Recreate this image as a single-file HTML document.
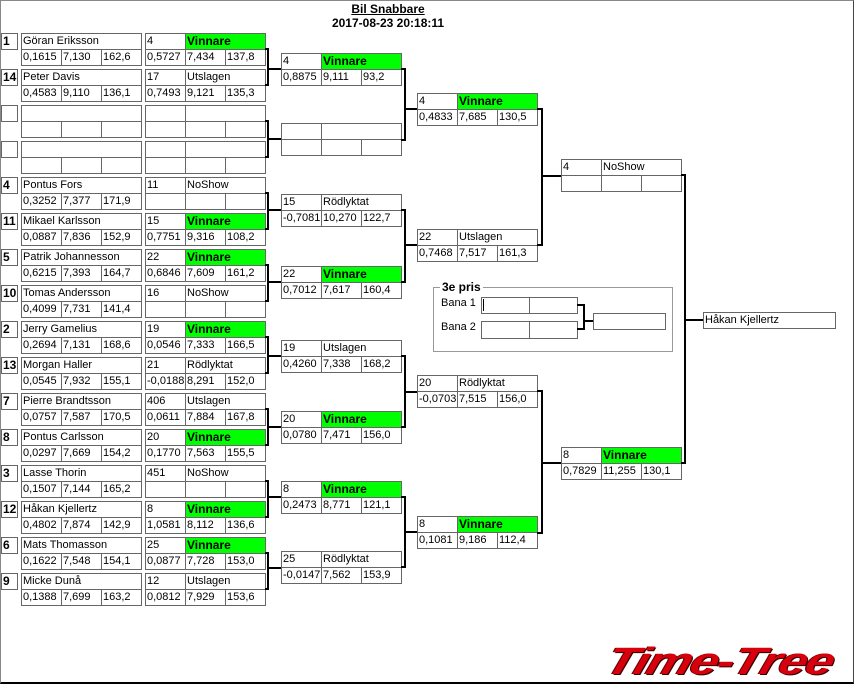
<!DOCTYPE html>
<html><head><meta charset="utf-8"><style>
body{margin:0;width:854px;height:684px;overflow:hidden;background:#fff;font-family:"Liberation Sans",sans-serif;font-size:11px;}
#f{position:absolute;left:0;top:0;width:852px;height:681px;border-left:1px solid #888;border-top:1px solid #888;border-right:1px solid #444;border-bottom:2px solid #000;}
.b{position:absolute;width:121px;height:33px;}
.c{position:absolute;box-sizing:border-box;height:17px;border:1px solid #666;top:0;padding-left:1px;line-height:15px;white-space:nowrap;overflow:hidden;font-style:normal;color:#000;background:#fff}
.c1{left:0;width:41px}.c2{left:40px;width:81px}.cn{left:0;width:121px}
.r{top:16px}.d1{left:0;width:41px}.d2{left:40px;width:41px}.d3{left:80px;width:41px}
.g{background:#00ff00;font-weight:bold;font-size:12px}
.s{position:absolute;left:1px;width:17px;height:17px;box-sizing:border-box;border:1px solid #666;font-weight:bold;font-size:12px;line-height:15px;padding-left:1px}
.t{position:absolute;left:288px;width:200px;text-align:center;font-weight:bold;font-size:12px}
</style></head><body>
<div id="f"></div>
<div class="t" style="top:2px;text-decoration:underline">Bil Snabbare</div>
<div class="t" style="top:16px">2017-08-23 20:18:11</div>

<div class="s" style="top:33px">1</div>
<div class="b" style="left:21px;top:33px"><i class="c cn">Göran Eriksson</i><i class="c r d1">0,1615</i><i class="c r d2">7,130</i><i class="c r d3">162,6</i></div>
<div class="b" style="left:145px;top:33px"><i class="c c1">4</i><i class="c c2 g">Vinnare</i><i class="c r d1">0,5727</i><i class="c r d2">7,434</i><i class="c r d3">137,8</i></div>

<div class="s" style="top:69px">14</div>
<div class="b" style="left:21px;top:69px"><i class="c cn">Peter Davis</i><i class="c r d1">0,4583</i><i class="c r d2">9,110</i><i class="c r d3">136,1</i></div>
<div class="b" style="left:145px;top:69px"><i class="c c1">17</i><i class="c c2">Utslagen</i><i class="c r d1">0,7493</i><i class="c r d2">9,121</i><i class="c r d3">135,3</i></div>

<div class="s" style="top:105px"></div>
<div class="b" style="left:21px;top:105px"><i class="c cn"></i><i class="c r d1"></i><i class="c r d2"></i><i class="c r d3"></i></div>
<div class="b" style="left:145px;top:105px"><i class="c c1"></i><i class="c c2"></i><i class="c r d1"></i><i class="c r d2"></i><i class="c r d3"></i></div>

<div class="s" style="top:141px"></div>
<div class="b" style="left:21px;top:141px"><i class="c cn"></i><i class="c r d1"></i><i class="c r d2"></i><i class="c r d3"></i></div>
<div class="b" style="left:145px;top:141px"><i class="c c1"></i><i class="c c2"></i><i class="c r d1"></i><i class="c r d2"></i><i class="c r d3"></i></div>

<div class="s" style="top:177px">4</div>
<div class="b" style="left:21px;top:177px"><i class="c cn">Pontus Fors</i><i class="c r d1">0,3252</i><i class="c r d2">7,377</i><i class="c r d3">171,9</i></div>
<div class="b" style="left:145px;top:177px"><i class="c c1">11</i><i class="c c2">NoShow</i><i class="c r d1"></i><i class="c r d2"></i><i class="c r d3"></i></div>

<div class="s" style="top:213px">11</div>
<div class="b" style="left:21px;top:213px"><i class="c cn">Mikael Karlsson</i><i class="c r d1">0,0887</i><i class="c r d2">7,836</i><i class="c r d3">152,9</i></div>
<div class="b" style="left:145px;top:213px"><i class="c c1">15</i><i class="c c2 g">Vinnare</i><i class="c r d1">0,7751</i><i class="c r d2">9,316</i><i class="c r d3">108,2</i></div>

<div class="s" style="top:249px">5</div>
<div class="b" style="left:21px;top:249px"><i class="c cn">Patrik Johannesson</i><i class="c r d1">0,6215</i><i class="c r d2">7,393</i><i class="c r d3">164,7</i></div>
<div class="b" style="left:145px;top:249px"><i class="c c1">22</i><i class="c c2 g">Vinnare</i><i class="c r d1">0,6846</i><i class="c r d2">7,609</i><i class="c r d3">161,2</i></div>

<div class="s" style="top:285px">10</div>
<div class="b" style="left:21px;top:285px"><i class="c cn">Tomas Andersson</i><i class="c r d1">0,4099</i><i class="c r d2">7,731</i><i class="c r d3">141,4</i></div>
<div class="b" style="left:145px;top:285px"><i class="c c1">16</i><i class="c c2">NoShow</i><i class="c r d1"></i><i class="c r d2"></i><i class="c r d3"></i></div>

<div class="s" style="top:321px">2</div>
<div class="b" style="left:21px;top:321px"><i class="c cn">Jerry Gamelius</i><i class="c r d1">0,2694</i><i class="c r d2">7,131</i><i class="c r d3">168,6</i></div>
<div class="b" style="left:145px;top:321px"><i class="c c1">19</i><i class="c c2 g">Vinnare</i><i class="c r d1">0,0546</i><i class="c r d2">7,333</i><i class="c r d3">166,5</i></div>

<div class="s" style="top:357px">13</div>
<div class="b" style="left:21px;top:357px"><i class="c cn">Morgan Haller</i><i class="c r d1">0,0545</i><i class="c r d2">7,932</i><i class="c r d3">155,1</i></div>
<div class="b" style="left:145px;top:357px"><i class="c c1">21</i><i class="c c2">Rödlyktat</i><i class="c r d1">-0,0188</i><i class="c r d2">8,291</i><i class="c r d3">152,0</i></div>

<div class="s" style="top:393px">7</div>
<div class="b" style="left:21px;top:393px"><i class="c cn">Pierre Brandtsson</i><i class="c r d1">0,0757</i><i class="c r d2">7,587</i><i class="c r d3">170,5</i></div>
<div class="b" style="left:145px;top:393px"><i class="c c1">406</i><i class="c c2">Utslagen</i><i class="c r d1">0,0611</i><i class="c r d2">7,884</i><i class="c r d3">167,8</i></div>

<div class="s" style="top:429px">8</div>
<div class="b" style="left:21px;top:429px"><i class="c cn">Pontus Carlsson</i><i class="c r d1">0,0297</i><i class="c r d2">7,669</i><i class="c r d3">154,2</i></div>
<div class="b" style="left:145px;top:429px"><i class="c c1">20</i><i class="c c2 g">Vinnare</i><i class="c r d1">0,1770</i><i class="c r d2">7,563</i><i class="c r d3">155,5</i></div>

<div class="s" style="top:465px">3</div>
<div class="b" style="left:21px;top:465px"><i class="c cn">Lasse Thorin</i><i class="c r d1">0,1507</i><i class="c r d2">7,144</i><i class="c r d3">165,2</i></div>
<div class="b" style="left:145px;top:465px"><i class="c c1">451</i><i class="c c2">NoShow</i><i class="c r d1"></i><i class="c r d2"></i><i class="c r d3"></i></div>

<div class="s" style="top:501px">12</div>
<div class="b" style="left:21px;top:501px"><i class="c cn">Håkan Kjellertz</i><i class="c r d1">0,4802</i><i class="c r d2">7,874</i><i class="c r d3">142,9</i></div>
<div class="b" style="left:145px;top:501px"><i class="c c1">8</i><i class="c c2 g">Vinnare</i><i class="c r d1">1,0581</i><i class="c r d2">8,112</i><i class="c r d3">136,6</i></div>

<div class="s" style="top:537px">6</div>
<div class="b" style="left:21px;top:537px"><i class="c cn">Mats Thomasson</i><i class="c r d1">0,1622</i><i class="c r d2">7,548</i><i class="c r d3">154,1</i></div>
<div class="b" style="left:145px;top:537px"><i class="c c1">25</i><i class="c c2 g">Vinnare</i><i class="c r d1">0,0877</i><i class="c r d2">7,728</i><i class="c r d3">153,0</i></div>

<div class="s" style="top:573px">9</div>
<div class="b" style="left:21px;top:573px"><i class="c cn">Micke Dunå</i><i class="c r d1">0,1388</i><i class="c r d2">7,699</i><i class="c r d3">163,2</i></div>
<div class="b" style="left:145px;top:573px"><i class="c c1">12</i><i class="c c2">Utslagen</i><i class="c r d1">0,0812</i><i class="c r d2">7,929</i><i class="c r d3">153,6</i></div>

<div class="b" style="left:281px;top:53px"><i class="c c1">4</i><i class="c c2 g">Vinnare</i><i class="c r d1">0,8875</i><i class="c r d2">9,111</i><i class="c r d3">93,2</i></div>
<div class="b" style="left:281px;top:123px"><i class="c c1"></i><i class="c c2"></i><i class="c r d1"></i><i class="c r d2"></i><i class="c r d3"></i></div>
<div class="b" style="left:281px;top:194px"><i class="c c1">15</i><i class="c c2">Rödlyktat</i><i class="c r d1">-0,7081</i><i class="c r d2">10,270</i><i class="c r d3">122,7</i></div>
<div class="b" style="left:281px;top:266px"><i class="c c1">22</i><i class="c c2 g">Vinnare</i><i class="c r d1">0,7012</i><i class="c r d2">7,617</i><i class="c r d3">160,4</i></div>
<div class="b" style="left:281px;top:340px"><i class="c c1">19</i><i class="c c2">Utslagen</i><i class="c r d1">0,4260</i><i class="c r d2">7,338</i><i class="c r d3">168,2</i></div>
<div class="b" style="left:281px;top:411px"><i class="c c1">20</i><i class="c c2 g">Vinnare</i><i class="c r d1">0,0780</i><i class="c r d2">7,471</i><i class="c r d3">156,0</i></div>
<div class="b" style="left:281px;top:481px"><i class="c c1">8</i><i class="c c2 g">Vinnare</i><i class="c r d1">0,2473</i><i class="c r d2">8,771</i><i class="c r d3">121,1</i></div>
<div class="b" style="left:281px;top:551px"><i class="c c1">25</i><i class="c c2">Rödlyktat</i><i class="c r d1">-0,0147</i><i class="c r d2">7,562</i><i class="c r d3">153,9</i></div>

<div class="b" style="left:417px;top:93px"><i class="c c1">4</i><i class="c c2 g">Vinnare</i><i class="c r d1">0,4833</i><i class="c r d2">7,685</i><i class="c r d3">130,5</i></div>
<div class="b" style="left:417px;top:229px"><i class="c c1">22</i><i class="c c2">Utslagen</i><i class="c r d1">0,7468</i><i class="c r d2">7,517</i><i class="c r d3">161,3</i></div>
<div class="b" style="left:417px;top:375px"><i class="c c1">20</i><i class="c c2">Rödlyktat</i><i class="c r d1">-0,0703</i><i class="c r d2">7,515</i><i class="c r d3">156,0</i></div>
<div class="b" style="left:417px;top:516px"><i class="c c1">8</i><i class="c c2 g">Vinnare</i><i class="c r d1">0,1081</i><i class="c r d2">9,186</i><i class="c r d3">112,4</i></div>

<div class="b" style="left:561px;top:159px"><i class="c c1">4</i><i class="c c2">NoShow</i><i class="c r d1"></i><i class="c r d2"></i><i class="c r d3"></i></div>
<div class="b" style="left:561px;top:447px"><i class="c c1">8</i><i class="c c2 g">Vinnare</i><i class="c r d1">0,7829</i><i class="c r d2">11,255</i><i class="c r d3">130,1</i></div>

<i class="c" style="left:703px;top:312px;width:133px;height:17px">Håkan Kjellertz</i>

<div style="position:absolute;left:433px;top:287px;width:238px;height:63px;border:1px solid #999"></div>
<div style="position:absolute;left:440px;top:280px;background:#fff;padding:0 2px;font-weight:bold;font-size:12px">3e pris</div>
<div style="position:absolute;left:441px;top:297px">Bana 1</div>
<div style="position:absolute;left:441px;top:321px">Bana 2</div>
<i class="c" style="left:481px;top:297px;width:49px"><span style="display:inline-block;width:1px;height:12px;background:#000;margin-top:1px"></span></i>
<i class="c" style="left:529px;top:297px;width:49px"></i>
<i class="c" style="left:481px;top:321px;width:49px;height:18px"></i>
<i class="c" style="left:529px;top:321px;width:49px;height:18px"></i>
<i class="c" style="left:593px;top:313px;width:73px"></i>

<svg style="position:absolute;left:0;top:0" width="854" height="684" shape-rendering="crispEdges">
<g fill="#000">
<rect x="265" y="48" width="4" height="2"/><rect x="265" y="84" width="4" height="2"/><rect x="267" y="48" width="2" height="38"/><rect x="267" y="68" width="14" height="2"/>
<rect x="265" y="120" width="4" height="2"/><rect x="265" y="156" width="4" height="2"/><rect x="267" y="120" width="2" height="38"/><rect x="267" y="138" width="14" height="2"/>
<rect x="265" y="192" width="4" height="2"/><rect x="265" y="228" width="4" height="2"/><rect x="267" y="192" width="2" height="38"/><rect x="267" y="209" width="14" height="2"/>
<rect x="265" y="264" width="4" height="2"/><rect x="265" y="300" width="4" height="2"/><rect x="267" y="264" width="2" height="38"/><rect x="267" y="281" width="14" height="2"/>
<rect x="265" y="336" width="4" height="2"/><rect x="265" y="372" width="4" height="2"/><rect x="267" y="336" width="2" height="38"/><rect x="267" y="355" width="14" height="2"/>
<rect x="265" y="408" width="4" height="2"/><rect x="265" y="444" width="4" height="2"/><rect x="267" y="408" width="2" height="38"/><rect x="267" y="426" width="14" height="2"/>
<rect x="265" y="480" width="4" height="2"/><rect x="265" y="516" width="4" height="2"/><rect x="267" y="480" width="2" height="38"/><rect x="267" y="496" width="14" height="2"/>
<rect x="265" y="552" width="4" height="2"/><rect x="265" y="588" width="4" height="2"/><rect x="267" y="552" width="2" height="38"/><rect x="267" y="567" width="14" height="2"/>
<rect x="401" y="68" width="5" height="2"/><rect x="401" y="139" width="5" height="2"/><rect x="404" y="68" width="2" height="73"/><rect x="404" y="108" width="13" height="2"/>
<rect x="401" y="209" width="5" height="2"/><rect x="401" y="281" width="5" height="2"/><rect x="404" y="209" width="2" height="74"/><rect x="404" y="244" width="13" height="2"/>
<rect x="401" y="355" width="5" height="2"/><rect x="401" y="426" width="5" height="2"/><rect x="404" y="355" width="2" height="73"/><rect x="404" y="391" width="13" height="2"/>
<rect x="401" y="496" width="5" height="2"/><rect x="401" y="566" width="5" height="2"/><rect x="404" y="496" width="2" height="72"/><rect x="404" y="531" width="13" height="2"/>
<rect x="537" y="108" width="6" height="2"/><rect x="537" y="244" width="6" height="2"/><rect x="541" y="108" width="2" height="138"/><rect x="541" y="175" width="20" height="2"/>
<rect x="537" y="390" width="6" height="2"/><rect x="537" y="532" width="6" height="2"/><rect x="541" y="390" width="2" height="144"/><rect x="541" y="462" width="20" height="2"/>
<rect x="681" y="174" width="5" height="2"/><rect x="681" y="462" width="5" height="2"/><rect x="684" y="174" width="2" height="290"/><rect x="684" y="319" width="19" height="2"/>
<rect x="577" y="304" width="8" height="2"/><rect x="577" y="328" width="8" height="2"/><rect x="583" y="304" width="2" height="26"/><rect x="583" y="320" width="10" height="2"/>
</g>
</svg>

<div style="position:absolute;left:600px;top:640px;width:260px;height:44px;font-family:'Liberation Sans',sans-serif;font-weight:bold;font-style:italic;font-size:38px;line-height:44px;color:#d8000c;letter-spacing:-1px;transform:skewX(-18deg) scaleX(1.32);transform-origin:left bottom;text-shadow:1px 1px 0 #300,-1px 0 0 #600;white-space:nowrap">Time-Tree</div>
</body></html>
